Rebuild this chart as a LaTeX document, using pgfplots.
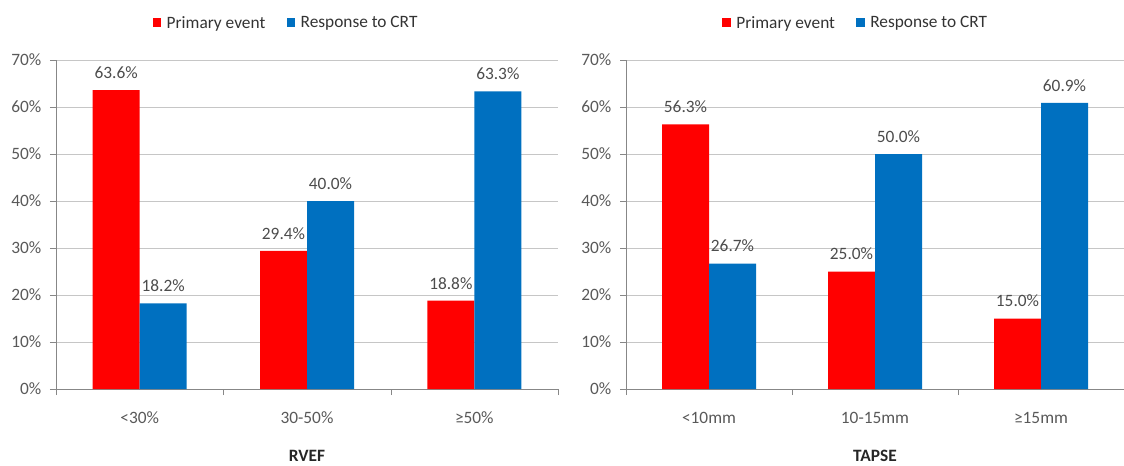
\documentclass[border=0pt]{standalone}
\usepackage{pgfplots}
\pgfplotsset{compat=1.18}
\usepackage{fontspec}
\setmainfont{Carlito}

\definecolor{pred}{HTML}{FF0000}
\definecolor{pblue}{HTML}{0070C0}
\definecolor{axgrey}{HTML}{878787}
\definecolor{gridgrey}{HTML}{C6C6C6}
\definecolor{txtgrey}{HTML}{595959}

\pgfplotsset{
  panel/.style={
    scale only axis, height=246.75pt,
    ybar=0pt, bar width=35.25pt,
    xmin=-0.5, xmax=2.5, enlarge x limits=false,
    ymin=0, ymax=70,
    xtick={0,1,2}, minor xtick={-0.5,0.5,1.5,2.5},
    ytick={0,10,...,70},
    yticklabel={\pgfmathprintnumber{\tick}\%},
    /pgf/number format/assume math mode=true,
    axis x line*=bottom, axis y line*=left,
    axis line style={axgrey},
    tick align=outside,
    major tick length=4.5pt, minor tick length=4.5pt,
    major x tick style={draw=none},
    minor x tick style={axgrey},
    major y tick style={axgrey},
    ymajorgrids, grid style={gridgrey},
    tick label style={font=\fontsize{13}{15}\selectfont, text=txtgrey},
    xticklabel style={anchor=center, yshift=-17pt},
    yticklabel style={xshift=-3pt},
    x label style={at={(axis description cs:0.5,-0.204)}, anchor=center,
      font=\fontsize{13}{15}\selectfont\bfseries, text=black!85},
    nodes near coords={\pgfmathprintnumber[fixed,fixed zerofill,precision=1]{\pgfplotspointmeta}\%},
    every node near coord/.append style={font=\fontsize{13}{15}\selectfont, text=black!70, yshift=5pt},
    legend columns=2,
    legend style={draw=none, fill=none, font=\fontsize{13}{15}\selectfont, text=black!80,
      /tikz/every even column/.append style={column sep=14pt}},
    legend image code/.code={\fill[#1] (0pt,-3pt) rectangle (6.5pt,3.5pt);},
  }
}

\begin{document}
\begin{tikzpicture}
\useasboundingbox (-42pt,-57pt) rectangle (801pt,291.75pt);

\begin{axis}[panel, width=376.5pt, at={(0pt,0pt)}, anchor=south west,
  xticklabels={<30\%, 30-50\%, ≥50\%},
  xlabel={RVEF},
  legend style={at={(axis description cs:0.459,1.112)}, anchor=center}]
\addplot[fill=pred, draw=none] coordinates {(0,63.6) (1,29.4) (2,18.8)};
\addplot[fill=pblue, draw=none] coordinates {(0,18.2) (1,40.0) (2,63.3)};
\legend{\hspace{2pt}Primary event, \hspace{2pt}Response to CRT}
\end{axis}

\begin{axis}[panel, width=373.5pt, at={(427.5pt,0pt)}, anchor=south west,
  xticklabels={<10mm, 10-15mm, ≥15mm},
  xlabel={TAPSE},
  legend style={at={(axis description cs:0.462,1.112)}, anchor=center}]
\addplot[fill=pred, draw=none] coordinates {(0,56.3) (1,25.0) (2,15.0)};
\addplot[fill=pblue, draw=none] coordinates {(0,26.7) (1,50.0) (2,60.9)};
\legend{\hspace{2pt}Primary event, \hspace{2pt}Response to CRT}
\end{axis}
\end{tikzpicture}
\end{document}
